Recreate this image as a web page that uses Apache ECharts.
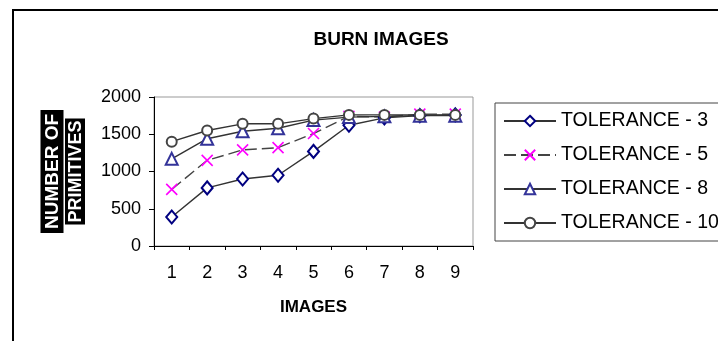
<!DOCTYPE html>
<html><head><meta charset="utf-8">
<script src="https://cdn.jsdelivr.net/npm/echarts@6/dist/echarts.min.js"></script>
<style>html,body{margin:0;padding:0;background:#fff}#c{width:718px;height:341px}</style>
</head><body><div id="c"></div>
<script>
const categories = ['1','2','3','4','5','6','7','8','9'];
const tol3  = [390, 780, 900, 950, 1270, 1620, 1720, 1750, 1760];
const tol5  = [760, 1150, 1290, 1320, 1510, 1740, 1730, 1770, 1770];
const tol8  = [1170, 1440, 1540, 1580, 1690, 1730, 1740, 1750, 1750];
const tol10 = [1400, 1550, 1640, 1640, 1710, 1760, 1760, 1760, 1760];
const seriesNames = ['TOLERANCE - 3','TOLERANCE - 5','TOLERANCE - 8','TOLERANCE - 10'];

const F = 'Arial, "Liberation Sans", sans-serif';
const chart = echarts.init(document.getElementById('c'), null, {renderer:'canvas'});
chart.setOption({
  animation:false,
  backgroundColor:'#fff',
  title:{text:'BURN IMAGES', left:376, top:25, textAlign:'center',
    textStyle:{fontFamily:F, fontSize:19, fontWeight:'bold', color:'#000'}},
  graphic:[{type:'rect', shape:{x:13,y:10,width:800,height:400},
    style:{fill:'none', stroke:'#000', lineWidth:2}, silent:true, z:-1}],
  legend:{
    orient:'vertical', left:495, top:103, padding:[8,30,8,8],
    itemWidth:52, itemHeight:13, itemGap:14,
    borderColor:'#444', borderWidth:1,
    textStyle:{fontFamily:F, fontSize:19.5, color:'#000'},
    data:seriesNames
  },
  grid:{left:154, right:245, top:97, bottom:95, show:true, borderColor:'#999', borderWidth:1},
  xAxis:{type:'category', data:categories, boundaryGap:true,
    name:'IMAGES', nameLocation:'middle', nameGap:53,
    nameTextStyle:{fontFamily:F, fontSize:17, fontWeight:'bold', color:'#000'},
    axisLine:{lineStyle:{color:'#000', width:1}},
    axisTick:{show:true, length:4, alignWithLabel:false, lineStyle:{color:'#000'}},
    axisLabel:{margin:18, fontFamily:F, fontSize:18, color:'#000'},
    splitLine:{show:false}},
  yAxis:{type:'value', min:0, max:2000, interval:500,
    name:'{a|NUMBER OF}\n{b|PRIMITIVES}', nameLocation:'middle', nameRotate:90, nameGap:68,
    nameTextStyle:{rich:{
      a:{fontFamily:F, fontSize:19, fontWeight:'bold', color:'#fff', backgroundColor:'#000', padding:[3,4,1,4], lineHeight:24},
      b:{fontFamily:F, fontSize:18, fontWeight:'bold', color:'#fff', backgroundColor:'#000', padding:[2,2,0,2], lineHeight:22}
    }},
    axisLine:{show:true, lineStyle:{color:'#000', width:1}},
    axisTick:{show:true, length:5, lineStyle:{color:'#000'}},
    axisLabel:{margin:13, fontFamily:F, fontSize:18, color:'#000', formatter:function(v){return String(v);}},
    splitLine:{show:false}},
  series:[
    {name:seriesNames[0], type:'line', data:tol3, symbol:'emptyDiamond', symbolSize:[11,13],
     itemStyle:{color:'#000080', borderWidth:1.5}, lineStyle:{color:'#333', width:1.4}},
    {name:seriesNames[1], type:'line', data:tol5, symbol:'path://M0,0L10,10M10,0L0,10', symbolSize:11,
     itemStyle:{color:'#ff00ff', borderColor:'#ff00ff', borderWidth:1.6}, lineStyle:{color:'#444', width:1.4, type:[12,5]}},
    {name:seriesNames[2], type:'line', data:tol8, symbol:'emptyTriangle', symbolSize:12,
     itemStyle:{color:'#333399', borderWidth:1.5}, lineStyle:{color:'#333', width:1.4}},
    {name:seriesNames[3], type:'line', data:tol10, symbol:'emptyCircle', symbolSize:10,
     itemStyle:{color:'#444', borderWidth:1.3}, lineStyle:{color:'#333', width:1.4}}
  ]
});
</script></body></html>
